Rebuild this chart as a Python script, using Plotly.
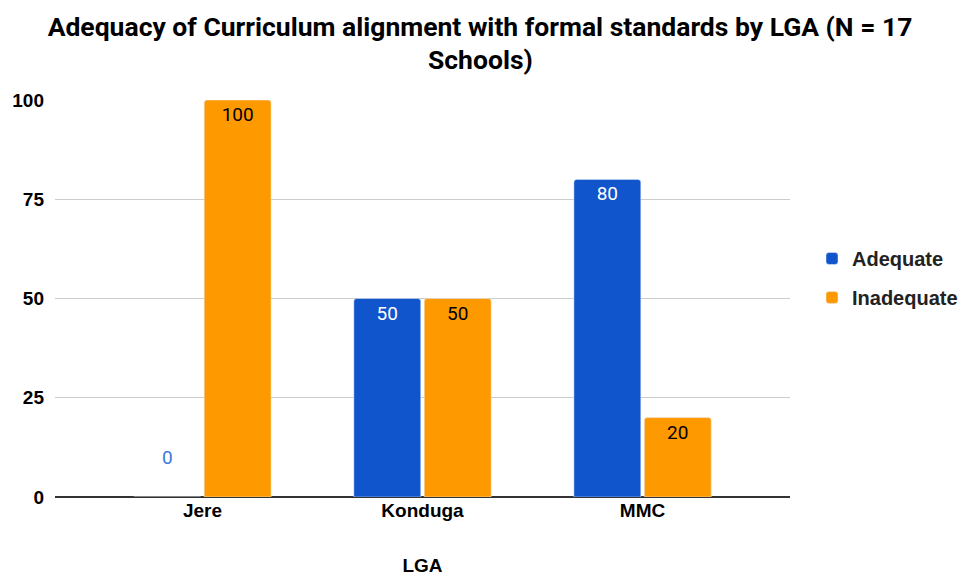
import plotly.graph_objects as go

categories = ["Jere", "Konduga", "MMC"]
adequate = [0, 50, 80]
inadequate = [100, 50, 20]
y_ticks = [0, 25, 50, 75, 100]
title_line1 = "Adequacy of Curriculum alignment with formal standards by LGA (N = 17"
title_line2 = "Schools)"

BLUE = "#1155CC"
ORANGE = "#FF9900"
BOLD = "Liberation Sans, Arial, sans-serif"

fig = go.Figure()
fig.add_trace(go.Bar(
    name="Adequate", x=categories, y=adequate, marker_color=BLUE,
    legendgroup="a",
    text=[(str(v) + "<br> ") if v == 0 else str(v) for v in adequate],
    textposition=["outside" if v == 0 else "inside" for v in adequate],
    insidetextanchor="end",
    textfont=dict(family="Roboto", size=19,
                  color=["#3c78d8" if v == 0 else "white" for v in adequate]),
    cliponaxis=False,
))
fig.add_trace(go.Bar(
    name="Inadequate", x=categories, y=inadequate, marker_color=ORANGE,
    legendgroup="b",
    text=[str(v) for v in inadequate],
    textposition="inside", insidetextanchor="end",
    textfont=dict(family="Roboto", size=19, color="black"),
))

fig.update_layout(
    width=960, height=576,
    paper_bgcolor="white", plot_bgcolor="white",
    margin=dict(l=55, r=170, t=100, b=79, autoexpand=False),
    title=dict(
        text=title_line1,
        x=0.5, xref="container", xanchor="center", y=1 - 27 / 576, yref="container", yanchor="middle",
        font=dict(family="Roboto", size=26.5, color="black", weight="bold"),
    ),
    annotations=[dict(
        text=title_line2, xref="paper", yref="paper",
        x=(480 - 55) / 735, y=1 + (100 - 59) / 397, xanchor="center", yanchor="middle",
        showarrow=False,
        font=dict(family="Roboto", size=26.5, color="black", weight="bold"),
    )],
    barmode="group", bargap=0.36, bargroupgap=0.05, barcornerradius=3,
    uniformtext=dict(minsize=19, mode="show"),
    legend=dict(x=(812 - 55) / 735, y=(497 - 278) / 397, xanchor="left", yanchor="middle",
                font=dict(family=BOLD, size=20, color="#222", weight="bold"),
                traceorder="grouped", tracegroupgap=10),
    font=dict(family=BOLD),
)
fig.update_xaxes(
    range=[-0.67, 2.67], showgrid=False,
    title=dict(text="LGA", font=dict(family=BOLD, size=19, color="black", weight="bold"), standoff=40),
    tickfont=dict(family=BOLD, size=19, color="black", weight="bold"),
    showline=False, ticks="", automargin=False,
)
fig.update_yaxes(
    range=[0, 100], tickvals=y_ticks, showgrid=True, gridcolor="#cccccc",
    zeroline=True, zerolinecolor="#333333", zerolinewidth=1.5,
    tickfont=dict(family=BOLD, size=19, color="black", weight="bold"),
    ticks="", ticklabelstandoff=10, automargin=False,
)

fig.write_html("out.html", config={"displayModeBar": False},
               post_script="document.body.style.margin='0';")
